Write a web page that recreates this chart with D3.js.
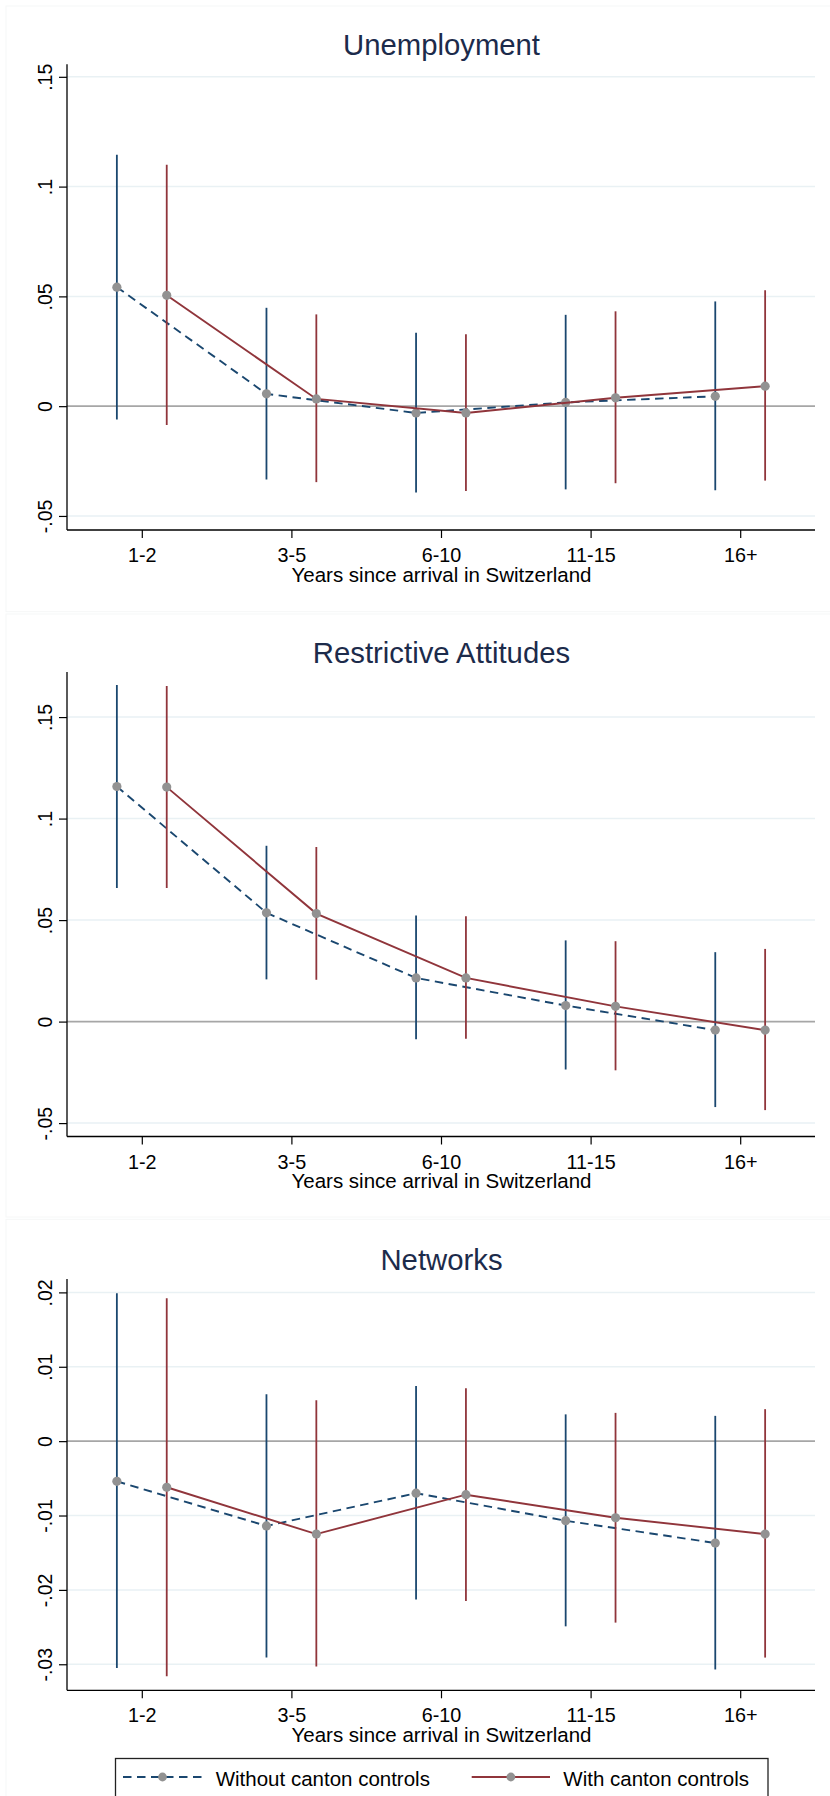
<!DOCTYPE html>
<html>
<head>
<meta charset="utf-8">
<script src="https://cdn.jsdelivr.net/npm/d3@7"></script>
<style>
  html, body { margin: 0; padding: 0; background: #ffffff; }
  svg { display: block; font-family: "Liberation Sans", Arial, sans-serif; }
</style>
</head>
<body>
<svg id="chart" width="830" height="1796"></svg>
<script>
// ---- Data -------------------------------------------------------------
const categories = ["1-2", "3-5", "6-10", "11-15", "16+"];
const seriesNames = ["Without canton controls", "With canton controls"];

// Unemployment
const unempNoCtrl    = [0.0542, 0.0056, -0.0031, 0.0017, 0.0045];
const unempNoCtrlLo  = [-0.0061, -0.0334, -0.0393, -0.0379, -0.0383];
const unempNoCtrlHi  = [0.1145, 0.0448, 0.0334, 0.0416, 0.0477];
const unempCtrl      = [0.0505, 0.0033, -0.0031, 0.0038, 0.0091];
const unempCtrlLo    = [-0.0086, -0.0346, -0.0386, -0.0351, -0.0339];
const unempCtrlHi    = [0.1100, 0.0418, 0.0327, 0.0432, 0.0528];

// Restrictive Attitudes
const attNoCtrl      = [0.1158, 0.0536, 0.0215, 0.0079, -0.0042];
const attNoCtrlLo    = [0.0658, 0.0208, -0.0087, -0.0236, -0.0421];
const attNoCtrlHi    = [0.1658, 0.0866, 0.0523, 0.0400, 0.0342];
const attCtrl        = [0.1155, 0.0532, 0.0215, 0.0075, -0.0042];
const attCtrlLo      = [0.0658, 0.0206, -0.0085, -0.0240, -0.0436];
const attCtrlHi      = [0.1653, 0.0860, 0.0519, 0.0396, 0.0358];

// Networks
const netNoCtrl      = [-0.0054, -0.0114, -0.0070, -0.0107, -0.0137];
const netNoCtrlLo    = [-0.0305, -0.0291, -0.0213, -0.0249, -0.0307];
const netNoCtrlHi    = [0.0199, 0.0063, 0.0074, 0.0036, 0.0034];
const netCtrl        = [-0.0062, -0.0125, -0.0072, -0.0103, -0.0125];
const netCtrlLo      = [-0.0316, -0.0303, -0.0215, -0.0244, -0.0291];
const netCtrlHi      = [0.0192, 0.0055, 0.0071, 0.0038, 0.0043];

// Axis ticks
const pctTicks       = [-0.05, 0, 0.05, 0.1, 0.15];
const pctTickLabels  = ["-.05", "0", ".05", ".1", ".15"];
const netTicks       = [-0.03, -0.02, -0.01, 0, 0.01, 0.02];
const netTickLabels  = ["-.03", "-.02", "-.01", "0", ".01", ".02"];

const xTitle = "Years since arrival in Switzerland";

// ---- Styling ----------------------------------------------------------
const BLUE = "#1a476f";
const RED = "#90353b";
const MARKER = "#929292";
const GRID = "#e9f1f4";
const ZERO = "#a6a6a6";
const TITLE = "#1c2b4b";
const DASH = "8.5,5.5";

const svg = d3.select("#chart");

const plotLeft = 67, plotRight = 815;
const x = d3.scaleLinear().domain([0.5, 5.5]).range([plotLeft, plotRight]);
const offset = 1 / 6;

const panels = [
  { title: "Unemployment", frame: [6, 611.7], top: 64.3, bottom: 530, domain: [-0.0564, 0.1557],
    ticks: pctTicks, labels: pctTickLabels,
    series: [
      { est: unempNoCtrl, lo: unempNoCtrlLo, hi: unempNoCtrlHi },
      { est: unempCtrl, lo: unempCtrlLo, hi: unempCtrlHi } ] },
  { title: "Restrictive Attitudes", frame: [614, 1217], top: 672, bottom: 1136.5, domain: [-0.0566, 0.1722],
    ticks: pctTicks, labels: pctTickLabels,
    series: [
      { est: attNoCtrl, lo: attNoCtrlLo, hi: attNoCtrlHi },
      { est: attCtrl, lo: attCtrlLo, hi: attCtrlHi } ] },
  { title: "Networks", frame: [1219.3, 1830], top: 1279, bottom: 1690.3, domain: [-0.0335, 0.0218],
    ticks: netTicks, labels: netTickLabels,
    series: [
      { est: netNoCtrl, lo: netNoCtrlLo, hi: netNoCtrlHi },
      { est: netCtrl, lo: netCtrlLo, hi: netCtrlHi } ] }
];

const seriesStyle = [
  { color: BLUE, dash: DASH, shift: -offset },
  { color: RED, dash: null, shift: offset }
];

panels.forEach(p => {
  const g = svg.append("g");

  // faint graph-region outline
  g.append("rect")
    .attr("x", 6).attr("y", p.frame[0])
    .attr("width", 840).attr("height", p.frame[1] - p.frame[0])
    .attr("fill", "none").attr("stroke", "#f6f7f7").attr("stroke-width", 1);

  const y = d3.scaleLinear().domain(p.domain).range([p.bottom, p.top]);

  // gridlines
  g.append("g").selectAll("line")
    .data(p.ticks.filter(t => t !== 0))
    .join("line")
    .attr("x1", plotLeft).attr("x2", plotRight)
    .attr("y1", d => y(d)).attr("y2", d => y(d))
    .attr("stroke", GRID).attr("stroke-width", 1.5);

  // zero reference line
  g.append("line")
    .attr("x1", plotLeft).attr("x2", plotRight)
    .attr("y1", y(0)).attr("y2", y(0))
    .attr("stroke", ZERO).attr("stroke-width", 1.6);

  // title
  g.append("text")
    .attr("x", (plotLeft + plotRight) / 2 + 0.5)
    .attr("y", p.top - 9.5)
    .attr("text-anchor", "middle")
    .attr("font-size", 29.3)
    .attr("fill", TITLE)
    .text(p.title);

  // y axis
  const yAxis = d3.axisLeft(y)
    .tickValues(p.ticks)
    .tickFormat((d, i) => p.labels[i])
    .tickSize(8).tickPadding(0);
  const ya = g.append("g").attr("transform", `translate(${plotLeft},0)`).call(yAxis);
  ya.select(".domain").attr("d", `M0,${p.top}V${p.bottom}`).attr("stroke", "#000").attr("stroke-width", 1.3);
  ya.selectAll(".tick line").attr("stroke", "#000").attr("stroke-width", 1.2);
  ya.selectAll(".tick text")
    .attr("x", null).attr("dy", null)
    .attr("transform", "translate(-15,0) rotate(-90)")
    .attr("text-anchor", "middle")
    .attr("font-size", 19.5)
    .attr("font-family", "Liberation Sans, Arial, sans-serif")
    .attr("fill", "#000");

  // x axis
  const xAxis = d3.axisBottom(x)
    .tickValues(d3.range(1, categories.length + 1))
    .tickFormat(d => categories[d - 1])
    .tickSize(8).tickPadding(0);
  const xa = g.append("g").attr("transform", `translate(0,${p.bottom})`).call(xAxis);
  xa.select(".domain").attr("d", `M${plotLeft},0H${plotRight}`).attr("stroke", "#000").attr("stroke-width", 1.3);
  xa.selectAll(".tick line").attr("stroke", "#000").attr("stroke-width", 1.2);
  xa.selectAll(".tick text")
    .attr("y", 32).attr("dy", null)
    .attr("font-size", 19.8)
    .attr("font-family", "Liberation Sans, Arial, sans-serif")
    .attr("fill", "#000");

  g.append("text")
    .attr("x", (plotLeft + plotRight) / 2 + 0.5)
    .attr("y", p.bottom + 51.7)
    .attr("text-anchor", "middle")
    .attr("font-size", 20.5)
    .attr("fill", "#000")
    .text(xTitle);

  // series: confidence spikes, connecting line, point markers
  p.series.forEach((s, si) => {
    const st = seriesStyle[si];
    const pts = s.est.map((v, i) => ({ cx: x(i + 1 + st.shift), v, lo: s.lo[i], hi: s.hi[i] }));

    g.append("g").selectAll("line")
      .data(pts)
      .join("line")
      .attr("x1", d => d.cx).attr("x2", d => d.cx)
      .attr("y1", d => y(d.lo)).attr("y2", d => y(d.hi))
      .attr("stroke", st.color).attr("stroke-width", 1.8);

    g.append("path")
      .datum(pts)
      .attr("d", d3.line().x(d => d.cx).y(d => y(d.v)))
      .attr("fill", "none")
      .attr("stroke", st.color)
      .attr("stroke-width", 1.9)
      .attr("stroke-dasharray", st.dash);

    g.append("g").selectAll("circle")
      .data(pts)
      .join("circle")
      .attr("cx", d => d.cx).attr("cy", d => y(d.v))
      .attr("r", 4.6)
      .attr("fill", MARKER);
  });
});

// ---- Legend -----------------------------------------------------------
const legend = svg.append("g");
legend.append("rect")
  .attr("x", 115.5).attr("y", 1758.5)
  .attr("width", 652.5).attr("height", 60)
  .attr("fill", "#fff").attr("stroke", "#222").attr("stroke-width", 1.3);

const legendItems = [
  { name: seriesNames[0], color: BLUE, dash: DASH, x1: 123, x2: 202, tx: 215.7 },
  { name: seriesNames[1], color: RED, dash: null, x1: 471.7, x2: 550, tx: 563.3 }
];
legendItems.forEach(it => {
  legend.append("line")
    .attr("x1", it.x1).attr("x2", it.x2)
    .attr("y1", 1777).attr("y2", 1777)
    .attr("stroke", it.color).attr("stroke-width", 1.8)
    .attr("stroke-dasharray", it.dash);
  legend.append("circle")
    .attr("cx", (it.x1 + it.x2) / 2).attr("cy", 1777)
    .attr("r", 4.4).attr("fill", MARKER);
  legend.append("text")
    .attr("x", it.tx).attr("y", 1785.7)
    .attr("font-size", 20.5)
    .attr("fill", "#000")
    .text(it.name);
});
</script>
</body>
</html>
